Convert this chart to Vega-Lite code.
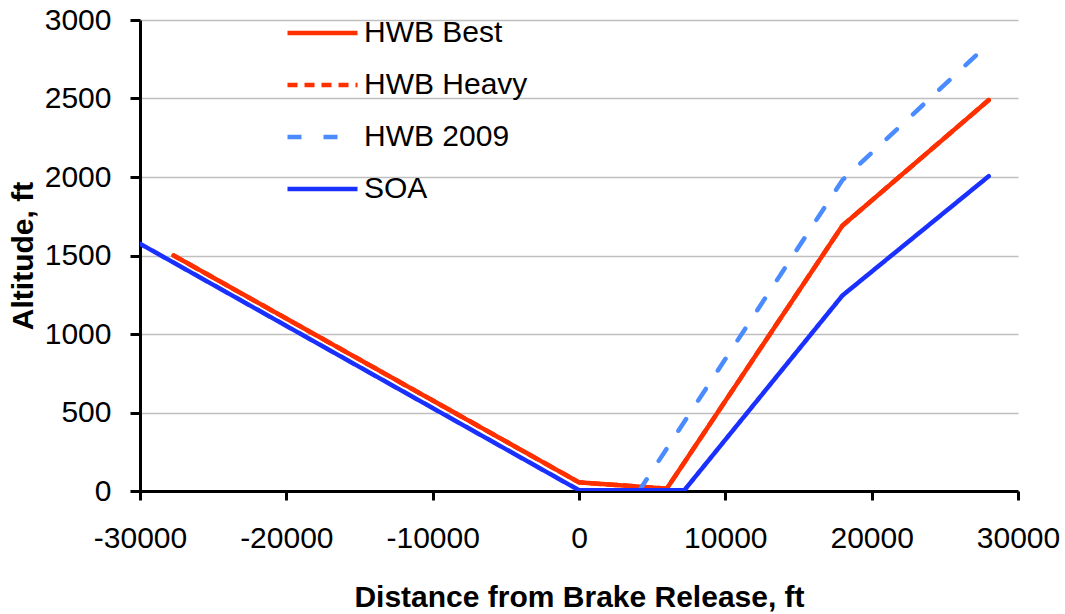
{
  "$schema": "https://vega.github.io/schema/vega-lite/v6.json",
  "autosize": {"type": "none"},
  "width": 878,
  "height": 471,
  "padding": {"left": 140, "top": 20, "right": 47, "bottom": 123},
  "background": "white",
  "config": {
    "view": {"stroke": null},
    "font": "Liberation Sans"
  },
  "data": {
    "values": [
      {"series": "HWB Best", "i": 0, "x": -27700, "y": 1500},
      {"series": "HWB Best", "i": 1, "x": 0, "y": 55},
      {"series": "HWB Best", "i": 2, "x": 6000, "y": 15},
      {"series": "HWB Best", "i": 3, "x": 18000, "y": 1690},
      {"series": "HWB Best", "i": 4, "x": 28000, "y": 2490},
      {"series": "HWB Heavy", "i": 0, "x": -27700, "y": 1500},
      {"series": "HWB Heavy", "i": 1, "x": 0, "y": 55},
      {"series": "HWB Heavy", "i": 2, "x": 6000, "y": 15},
      {"series": "HWB Heavy", "i": 3, "x": 18000, "y": 1690},
      {"series": "HWB Heavy", "i": 4, "x": 28000, "y": 2490},
      {"series": "HWB 2009", "i": 0, "x": 4100, "y": 0},
      {"series": "HWB 2009", "i": 1, "x": 18000, "y": 1980},
      {"series": "HWB 2009", "i": 2, "x": 28000, "y": 2850},
      {"series": "SOA", "i": 0, "x": -30000, "y": 1575},
      {"series": "SOA", "i": 1, "x": 0, "y": 5},
      {"series": "SOA", "i": 2, "x": 7200, "y": 5},
      {"series": "SOA", "i": 3, "x": 18000, "y": 1245},
      {"series": "SOA", "i": 4, "x": 28000, "y": 2005}
    ]
  },
  "mark": {"type": "line", "strokeWidth": 4.5, "strokeCap": "round", "clip": true},
  "encoding": {
    "x": {
      "field": "x", "type": "quantitative",
      "scale": {"domain": [-30000, 30000], "nice": false},
      "axis": {
        "title": "Distance from Brake Release, ft",
        "values": [-30000, -20000, -10000, 0, 10000, 20000, 30000],
        "labelExpr": "datum.value < 0 ? '-' + abs(datum.value) : '' + datum.value",
        "labelFlush": false,
        "labelOverlap": false,
        "labelBound": false,
        "grid": false,
        "domainColor": "black", "domainWidth": 3,
        "tickColor": "black", "tickWidth": 3, "tickSize": 9,
        "labelFontSize": 30, "labelColor": "black", "labelPadding": 23,
        "labelFont": "Liberation Sans",
        "titleFontSize": 30, "titleFontWeight": "bold", "titleColor": "black",
        "titlePadding": 29, "titleFont": "Liberation Sans"
      }
    },
    "y": {
      "field": "y", "type": "quantitative",
      "scale": {"domain": [0, 3000], "nice": false},
      "axis": {
        "title": "Altitude, ft",
        "values": [0, 500, 1000, 1500, 2000, 2500, 3000],
        "format": "d",
        "labelFlush": false,
        "labelOverlap": false,
        "grid": true, "gridColor": "#bfbfbf", "gridWidth": 1.5,
        "domainColor": "black", "domainWidth": 3,
        "tickColor": "black", "tickWidth": 3, "tickSize": 10,
        "labelFontSize": 30, "labelColor": "black", "labelPadding": 19,
        "labelFont": "Liberation Sans",
        "titleFontSize": 30, "titleFontWeight": "bold", "titleColor": "black",
        "titlePadding": 6, "titleFont": "Liberation Sans"
      }
    },
    "color": {
      "field": "series", "type": "nominal",
      "scale": {
        "domain": ["HWB Best", "HWB Heavy", "HWB 2009", "SOA"],
        "range": ["#ff3000", "#ff3000", "#4a8cff", "#1a30ff"]
      },
      "legend": {
        "title": null,
        "orient": "none",
        "legendX": 145,
        "legendY": -2,
        "symbolType": "stroke",
        "symbolSize": 4900,
        "symbolStrokeWidth": 4.5,
        "labelFontSize": 30,
        "labelColor": "black",
        "labelFont": "Liberation Sans",
        "labelOffset": 4,
        "labelLimit": 500,
        "clipHeight": 30,
        "rowPadding": 22
      }
    },
    "strokeDash": {
      "field": "series", "type": "nominal",
      "scale": {
        "domain": ["HWB Best", "HWB Heavy", "HWB 2009", "SOA"],
        "range": [[1, 0], [10, 7], [14, 22], [1, 0]]
      },
      "legend": null
    },
    "detail": {"field": "series"},
    "order": {"field": "i", "type": "quantitative"}
  }
}
